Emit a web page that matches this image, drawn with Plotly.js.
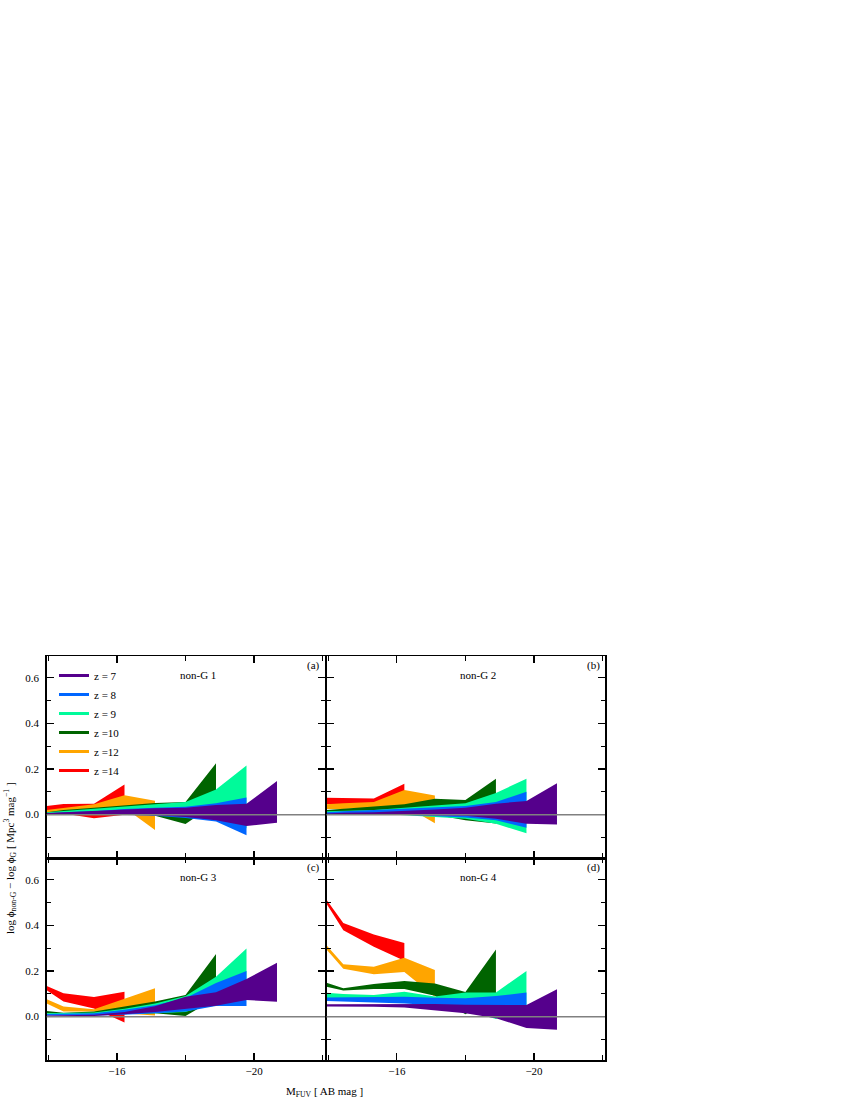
<!DOCTYPE html>
<html><head><meta charset="utf-8">
<script src="https://cdn.plot.ly/plotly-3.0.1.min.js"></script>
<style>html,body{margin:0;padding:0;background:#fff}#chart{width:850px;height:1100px}</style>
</head><body><div id="chart"></div>
<script>
// Absolute FUV magnitude of the bin centres (first value = left edge of the axis)
const mag = [-13.95, -14.44, -15.33, -16.22, -17.11, -18.0, -18.89, -19.78, -20.67];

const seriesNames = ['z = 7', 'z = 8', 'z = 9', 'z =10', 'z =12', 'z =14'];
const seriesColors = ['#55008c', '#0066ff', '#00fa9a', '#006400', '#ffa500', '#ff0000'];
const panelNames = ['non-G 1', 'non-G 2', 'non-G 3', 'non-G 4'];
const panelTags = ['(a)', '(b)', '(c)', '(d)'];

// ---- panel (a) non-G 1 : lower / upper bounds of the band ----
const a_z7_lo  = [0.0, 0.0, 0.0, 0.0, -0.003, -0.01, -0.025, -0.05, -0.036];
const a_z7_hi  = [0.007, 0.01, 0.016, 0.02, 0.028, 0.03, 0.042, 0.048, 0.147];
const a_z8_lo  = [0.0, 0.0, 0.0, 0.0, -0.005, -0.015, -0.03, -0.09];
const a_z8_hi  = [0.005, 0.01, 0.015, 0.025, 0.03, 0.035, 0.05, 0.075];
const a_z9_lo  = [0.005, 0.005, 0.005, 0.005, 0.0, -0.01, -0.02, -0.06];
const a_z9_hi  = [0.01, 0.015, 0.025, 0.035, 0.045, 0.055, 0.11, 0.215];
const a_z10_lo = [0.005, 0.005, 0.01, 0.01, -0.005, -0.041, 0.05];
const a_z10_hi = [0.01, 0.02, 0.03, 0.042, 0.051, 0.055, 0.225];
const a_z12_lo = [0.01, 0.01, 0.015, 0.03, -0.067];
const a_z12_hi = [0.02, 0.03, 0.045, 0.085, 0.061];
const a_z14_lo = [0.02, 0.005, -0.016, 0.0];
const a_z14_hi = [0.038, 0.047, 0.048, 0.132];

// ---- panel (b) non-G 2 ----
const b_z7_lo  = [0.0, 0.0, 0.0, 0.0, -0.003, -0.005, -0.018, -0.04, -0.043];
const b_z7_hi  = [0.005, 0.008, 0.01, 0.015, 0.022, 0.03, 0.048, 0.06, 0.137];
const b_z8_lo  = [0.0, 0.0, 0.0, 0.0, -0.005, -0.013, -0.025, -0.057];
const b_z8_hi  = [0.01, 0.015, 0.02, 0.025, 0.03, 0.038, 0.055, 0.1];
const b_z9_lo  = [0.005, 0.005, 0.005, 0.0, -0.01, -0.018, -0.04, -0.082];
const b_z9_hi  = [0.015, 0.017, 0.02, 0.03, 0.04, 0.05, 0.095, 0.157];
const b_z10_lo = [0.01, 0.01, 0.01, 0.01, 0.0, -0.025, -0.039];
const b_z10_hi = [0.02, 0.025, 0.035, 0.045, 0.07, 0.064, 0.157];
const b_z12_lo = [0.025, 0.025, 0.03, 0.04, -0.038];
const b_z12_hi = [0.045, 0.05, 0.055, 0.108, 0.084];
const b_z14_lo = [0.045, 0.045, 0.045, 0.09];
const b_z14_hi = [0.074, 0.073, 0.071, 0.135];

// ---- panel (c) non-G 3 ----
const c_z7_lo  = [0.0, 0.0, 0.003, 0.01, 0.02, 0.033, 0.048, 0.073, 0.065];
const c_z7_hi  = [0.005, 0.005, 0.008, 0.02, 0.045, 0.087, 0.107, 0.165, 0.236];
const c_z8_lo  = [0.005, 0.005, 0.005, 0.008, 0.015, 0.022, 0.047, 0.047];
const c_z8_hi  = [0.012, 0.012, 0.015, 0.03, 0.05, 0.082, 0.147, 0.2];
const c_z9_lo  = [0.008, 0.008, 0.008, 0.01, 0.015, 0.02, 0.06, 0.1];
const c_z9_hi  = [0.015, 0.015, 0.018, 0.035, 0.058, 0.09, 0.175, 0.298];
const c_z10_lo = [0.015, 0.01, 0.01, 0.012, 0.015, 0.003, 0.08];
const c_z10_hi = [0.025, 0.017, 0.022, 0.044, 0.066, 0.095, 0.274];
const c_z12_lo = [0.058, 0.022, 0.022, 0.015, 0.005];
const c_z12_hi = [0.076, 0.044, 0.032, 0.078, 0.124];
const c_z14_lo = [0.116, 0.066, 0.036, -0.026];
const c_z14_hi = [0.134, 0.102, 0.086, 0.109];

// ---- panel (d) non-G 4 ----
const d_z7_lo  = [0.044, 0.044, 0.043, 0.04, 0.028, 0.015, -0.007, -0.05, -0.058];
const d_z7_hi  = [0.054, 0.054, 0.055, 0.056, 0.055, 0.052, 0.051, 0.051, 0.12];
const d_z8_lo  = [0.068, 0.066, 0.062, 0.058, 0.05, 0.045, 0.045, 0.047];
const d_z8_hi  = [0.084, 0.084, 0.084, 0.087, 0.083, 0.08, 0.09, 0.106];
const d_z9_lo  = [0.08, 0.075, 0.075, 0.07, 0.06, 0.03, -0.01, 0.05];
const d_z9_hi  = [0.105, 0.099, 0.095, 0.109, 0.088, 0.106, 0.106, 0.2];
const d_z10_lo = [0.131, 0.114, 0.121, 0.121, 0.092, 0.01, 0.09];
const d_z10_hi = [0.148, 0.124, 0.143, 0.156, 0.145, 0.108, 0.294];
const d_z12_lo = [0.294, 0.21, 0.186, 0.196, 0.087];
const d_z12_hi = [0.313, 0.23, 0.218, 0.258, 0.204];
const d_z14_lo = [0.495, 0.378, 0.306, 0.245];
const d_z14_hi = [0.512, 0.41, 0.36, 0.323];

const panels = [
  [[a_z7_lo,a_z7_hi],[a_z8_lo,a_z8_hi],[a_z9_lo,a_z9_hi],[a_z10_lo,a_z10_hi],[a_z12_lo,a_z12_hi],[a_z14_lo,a_z14_hi]],
  [[b_z7_lo,b_z7_hi],[b_z8_lo,b_z8_hi],[b_z9_lo,b_z9_hi],[b_z10_lo,b_z10_hi],[b_z12_lo,b_z12_hi],[b_z14_lo,b_z14_hi]],
  [[c_z7_lo,c_z7_hi],[c_z8_lo,c_z8_hi],[c_z9_lo,c_z9_hi],[c_z10_lo,c_z10_hi],[c_z12_lo,c_z12_hi],[c_z14_lo,c_z14_hi]],
  [[d_z7_lo,d_z7_hi],[d_z8_lo,d_z8_hi],[d_z9_lo,d_z9_hi],[d_z10_lo,d_z10_hi],[d_z12_lo,d_z12_hi],[d_z14_lo,d_z14_hi]]
];

const FONT = 'Liberation Serif, Times New Roman, serif';
const traces = [];
panels.forEach((series, p) => {
  const ax = p === 0 ? '' : String(p + 1);
  // draw highest z first so that z = 7 ends on top
  for (let s = series.length - 1; s >= 0; s--) {
    const lo = series[s][0], hi = series[s][1];
    const xs = mag.slice(0, hi.length);
    traces.push({
      type: 'scatter', mode: 'lines',
      x: xs.concat(xs.slice().reverse()),
      y: hi.concat(lo.slice().reverse()),
      fill: 'toself', fillcolor: seriesColors[s],
      line: {width: 0, color: seriesColors[s]},
      hoverinfo: 'skip', showlegend: false,
      xaxis: 'x' + ax, yaxis: 'y' + ax
    });
  }
});
// legend entries
seriesNames.forEach((n, s) => {
  traces.push({type: 'scatter', mode: 'lines', x: [null], y: [null], name: n,
    line: {color: seriesColors[s], width: 3}, xaxis: 'x', yaxis: 'y', showlegend: true});
});

const xr = [-13.95, -22.07], yr = [-0.19, 0.695];
function xAxis(dom, labels, anchor) {
  return {domain: dom, anchor: anchor, range: xr, tick0: -16, dtick: 4, ticks: 'inside', ticklen: 7, tickwidth: 1.2,
    tickcolor: '#000', showline: true, linecolor: '#000', linewidth: 1.5, mirror: 'ticks',
    showgrid: false, zeroline: false, showticklabels: labels,
    minor: {tick0: -16, dtick: 2, ticks: 'inside', ticklen: 5, tickwidth: 1.2, tickcolor: '#000', showgrid: false},
    tickfont: {family: FONT, size: 11, color: '#000'}};
}
function yAxis(dom, labels, anchor) {
  return {domain: dom, anchor: anchor, range: yr, tick0: 0, dtick: 0.2, tickformat: '.1f', ticks: 'inside', ticklen: 7, tickwidth: 1.2,
    tickcolor: '#000', showline: true, linecolor: '#000', linewidth: 1.5, mirror: 'ticks',
    showgrid: false, zeroline: false, showticklabels: labels, ticklabelstandoff: 4,
    minor: {tick0: 0, dtick: 0.1, ticks: 'inside', ticklen: 4, tickwidth: 1.2, tickcolor: '#000', showgrid: false},
    tickfont: {family: FONT, size: 11, color: '#000'}};
}
const W = 850, H = 1100;
const xL = [46.7 / W, 325 / W], xR = [326.5 / W, 605 / W];
const yT = [1 - 858 / H, 1 - 656 / H], yB = [1 - 1060 / H, 1 - 858 / H];

const annotations = [];
const shapes = [];
for (let p = 0; p < 4; p++) {
  const ax = p === 0 ? '' : String(p + 1);
  annotations.push({xref: 'x' + ax + ' domain', yref: 'y' + ax + ' domain', x: 0.544, y: 0.906,
    text: panelNames[p], showarrow: false, xanchor: 'center', yanchor: 'middle',
    font: {family: FONT, size: 11, color: '#000'}});
  annotations.push({xref: 'x' + ax + ' domain', yref: 'y' + ax + ' domain', x: 0.99, y: 0.952,
    text: panelTags[p], showarrow: false, xanchor: 'right', yanchor: 'middle',
    font: {family: FONT, size: 11, color: '#000'}});
  shapes.push({type: 'line', xref: 'x' + ax + ' domain', x0: 0, x1: 1, yref: 'y' + ax, y0: 0, y1: 0,
    line: {color: '#808080', width: 1.5}, layer: 'above'});
}
annotations.push({xref: 'paper', yref: 'paper', x: 324 / W, y: 1 - 1092 / H, showarrow: false,
  text: 'M<sub>FUV</sub> [ AB mag ]', font: {family: FONT, size: 11, color: '#000'}, xanchor: 'center', yanchor: 'middle'});
annotations.push({xref: 'paper', yref: 'paper', x: 10 / W, y: 1 - 858 / H, showarrow: false, textangle: -90,
  text: 'log ϕ<sub>non-G</sub> − log ϕ<sub>G</sub> [ Mpc<sup>3</sup> mag<sup>−1</sup> ]',
  font: {family: FONT, size: 11, color: '#000'}, xanchor: 'center', yanchor: 'middle'});

const layout = {
  width: W, height: H, margin: {l: 0, r: 0, t: 0, b: 0},
  paper_bgcolor: '#fff', plot_bgcolor: 'rgba(0,0,0,0)',
  font: {family: FONT, size: 11, color: '#000'},
  xaxis: xAxis(xL, false, 'y'), yaxis: yAxis(yT, true, 'x'),
  xaxis2: xAxis(xR, false, 'y2'), yaxis2: yAxis(yT, false, 'x2'),
  xaxis3: xAxis(xL, true, 'y3'), yaxis3: yAxis(yB, true, 'x3'),
  xaxis4: xAxis(xR, true, 'y4'), yaxis4: yAxis(yB, false, 'x4'),
  showlegend: true,
  legend: {x: 54 / W, y: 1 - 661 / H, xanchor: 'left', yanchor: 'top', bgcolor: 'rgba(0,0,0,0)',
    font: {family: FONT, size: 11, color: '#000'}, itemwidth: 30, tracegroupgap: 0, borderwidth: 0},
  annotations: annotations, shapes: shapes
};
Plotly.newPlot('chart', traces, layout, {displayModeBar: false, staticPlot: true});
</script>
</body></html>
